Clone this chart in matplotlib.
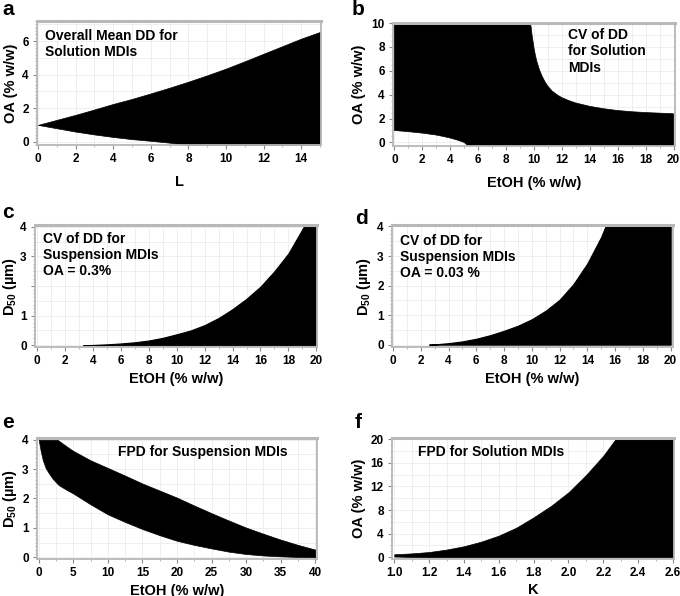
import numpy as np
import matplotlib
matplotlib.use("Agg")
import matplotlib.pyplot as plt
from matplotlib.ticker import MultipleLocator, FormatStrFormatter

plt.rcParams['font.family'] = ['Liberation Sans', 'DejaVu Sans']
plt.rcParams['font.weight'] = 'bold'
plt.rcParams['mathtext.fontset'] = 'custom'
plt.rcParams['mathtext.rm'] = 'Liberation Sans'

# (a) overall mean DD, solution MDIs
L_a = [0, 1, 2, 3, 4, 5, 6, 7, 8, 9, 10, 11, 12, 13, 14, 15]
upper_a = [1.0, 1.3, 1.6, 1.92, 2.25, 2.55, 2.88, 3.22, 3.58, 3.96, 4.36, 4.8, 5.25, 5.7, 6.15, 6.55]
lower_a = [1.0, 0.8, 0.6, 0.43, 0.28, 0.15, 0.05, -0.06, -0.2, -0.2, -0.2, -0.2, -0.2, -0.2, -0.2, -0.2]

# (b) CV of DD, solution MDIs: black region bounded by two curves
etoh_b_up = [9.75, 9.8, 9.85, 9.9, 10.0, 10.1, 10.2, 10.4, 10.6, 10.8, 11.0, 11.3, 11.7, 12, 12.5, 13, 14, 15, 16, 17, 18, 19, 20]
oa_b_up = [10, 9.6, 9.1, 8.7, 7.9, 7.3, 6.8, 6.05, 5.5, 5.05, 4.7, 4.3, 3.95, 3.75, 3.5, 3.3, 3.02, 2.82, 2.67, 2.57, 2.5, 2.45, 2.4]
etoh_b_lo = [0, 1, 2, 3, 3.5, 4, 4.5, 4.8, 5.0, 5.3]
oa_b_lo = [1.0, 0.9, 0.78, 0.62, 0.5, 0.37, 0.2, 0.08, 0.0, -0.3]

# (c) CV of DD, suspension MDIs, OA = 0.3%
etoh_c = [3.3, 4, 5, 6, 7, 8, 9, 10, 11, 12, 13, 14, 15, 16, 17, 18, 19.1, 20]
d50_c = [0, 0.01, 0.03, 0.06, 0.1, 0.16, 0.25, 0.37, 0.5, 0.68, 0.92, 1.22, 1.57, 1.98, 2.5, 3.1, 4.0, 4.0]

# (d) CV of DD, suspension MDIs, OA = 0.03%
etoh_d = [2.6, 3, 4, 5, 6, 7, 8, 9, 10, 11, 12, 13, 14, 14.5, 15, 15.3, 20]
d50_d = [0, 0.01, 0.05, 0.11, 0.2, 0.32, 0.47, 0.64, 0.86, 1.15, 1.52, 2.05, 2.75, 3.2, 3.65, 4.0, 4.0]

# (e) FPD, suspension MDIs
etoh_e = [0, 0.3, 0.6, 1, 1.5, 2, 2.7, 3, 4, 5, 7.5, 10, 12.5, 15, 17.5, 20, 22.5, 25, 27.5, 30, 32.5, 35, 37.5, 40]
upper_e = [4, 4, 4, 4, 4, 4, 4, 3.95, 3.78, 3.62, 3.3, 3.04, 2.78, 2.51, 2.27, 2.03, 1.76, 1.5, 1.25, 1.01, 0.8, 0.6, 0.42, 0.26]
lower_e = [4, 3.6, 3.3, 3.04, 2.85, 2.68, 2.5, 2.44, 2.3, 2.17, 1.8, 1.46, 1.2, 0.96, 0.75, 0.56, 0.42, 0.3, 0.19, 0.11, 0.06, 0.03, 0.01, 0]

# (f) FPD, solution MDIs
K_f = [1.0, 1.1, 1.2, 1.3, 1.4, 1.5, 1.6, 1.7, 1.8, 1.9, 2.0, 2.1, 2.2, 2.27, 2.6]
upper_f = [0.5, 0.65, 0.88, 1.3, 1.86, 2.65, 3.66, 5.0, 6.76, 8.7, 11.0, 13.9, 17.2, 20, 20]
lower_f = [0.12, 0.05, 0, 0, 0, 0, 0, 0, 0, 0, 0, 0, 0, 0, 0]

W, H = 680, 596
fig = plt.figure(figsize=(W / 100, H / 100), dpi=100)


def make_ax(l, t, r, b):
    return fig.add_axes([l / W, 1 - b / H, (r - l) / W, (b - t) / H])


def style(ax, xlim, ylim, xmaj, xmin, ymaj, ymin, xlabel, ylabel, xpad=5, ypad=4):
    ax.set_xlim(*xlim)
    ax.set_ylim(*ylim)
    ax.xaxis.set_major_locator(MultipleLocator(xmaj))
    ax.xaxis.set_minor_locator(MultipleLocator(xmin))
    ax.yaxis.set_major_locator(MultipleLocator(ymaj))
    ax.yaxis.set_minor_locator(MultipleLocator(ymin))
    # faint grid at major ticks and half-way between them
    for gx in np.arange(0, xlim[1] + 1e-9, xmaj / 2):
        if gx > xlim[0]:
            ax.axvline(gx, color='#ececec', lw=0.6, zorder=0)
    for gy in np.arange(0, ylim[1] + 1e-9, ymaj / 2):
        ax.axhline(gy, color='#ececec', lw=0.6, zorder=0)
    for s in ax.spines.values():
        s.set_color('#b8b8b8')
        s.set_linewidth(1.3)
    ax.spines['top'].set_linewidth(2.2)
    ax.tick_params(which='major', length=3, width=0.8, color='#888888',
                   labelsize=8.5, pad=3)
    ax.tick_params(which='minor', length=1.5, width=0.5, color='#999999')
    for lab in ax.get_xticklabels() + ax.get_yticklabels():
        lab.set_fontweight('bold')
    ax.set_xlabel(xlabel, fontsize=10.5, fontweight='bold', labelpad=xpad)
    ax.set_ylabel(ylabel, fontsize=10.5, fontweight='bold', labelpad=ypad)


def note(ax, x, y, s):
    ax.text(x, y, s, transform=ax.transAxes, ha='left', va='top',
            fontsize=10, fontweight='bold', linespacing=1.2, zorder=5)


oa_lab = 'OA (% w/w)'
etoh_lab = 'EtOH (% w/w)'
d50_lab = r'D$_{\mathrm{50}}$ (µm)'

# a
ax = make_ax(37, 21, 321, 145)
ax.fill_between(L_a, lower_a, upper_a, color='black', lw=0.5, zorder=2)
style(ax, (-0.05, 15.05), (-0.2, 7.2), 2, 1, 2, 0.2, 'L', oa_lab, xpad=7, ypad=3)
note(ax, 0.028, 0.935, 'Overall Mean DD for\nSolution MDIs')

# b
ax = make_ax(393, 23, 675, 146)
bx = np.concatenate([[0], etoh_b_up, [20, 20], etoh_b_lo[::-1]])
by = np.concatenate([[10], oa_b_up, [2.4, -0.3], oa_b_lo[::-1]])
ax.fill(bx, by, color='black', lw=0.5, zorder=2)
style(ax, (-0.1, 20.1), (-0.3, 10), 2, 1, 2, 0.5, etoh_lab, oa_lab, xpad=7)
note(ax, 0.62, 0.957, 'CV of DD\nfor Solution\nMDIs')

# c
ax = make_ax(35, 225, 317, 347)
ax.fill_between(etoh_c, 0, d50_c, color='black', lw=0.8, zorder=2)
style(ax, (-0.15, 20.05), (-0.06, 4.06), 2, 1, 1, 0.125, etoh_lab, d50_lab, xpad=3, ypad=1)
ax.set_yticks([0, 1, 2, 3, 4])
ax.set_yticklabels(['0', '1', '', '3', '4'], fontweight='bold')
note(ax, 0.03, 0.945, 'CV of DD for\nSuspension MDIs\nOA = 0.3%')

# d
ax = make_ax(392, 225, 673, 347)
ax.fill_between(etoh_d, 0, d50_d, color='black', lw=0.8, zorder=2)
style(ax, (-0.07, 20.17), (-0.08, 4.05), 2, 1, 1, 0.125, etoh_lab, d50_lab, xpad=3, ypad=3)
note(ax, 0.028, 0.93, 'CV of DD for\nSuspension MDIs\nOA = 0.03 %')

# e
ax = make_ax(37, 438, 317, 559)
ax.fill_between(etoh_e, lower_e, upper_e, color='black', lw=0.5, zorder=2)
style(ax, (-0.25, 40.25), (-0.06, 4.06), 5, 2.5, 1, 0.125, etoh_lab, d50_lab, xpad=3, ypad=2)
note(ax, 0.29, 0.946, 'FPD for Suspension MDIs')

# f
ax = make_ax(392, 438, 674, 559)
ax.fill_between(K_f, lower_f, upper_f, color='black', lw=0.5, zorder=2)
style(ax, (0.987, 2.606), (-0.3, 20.2), 0.2, 0.1, 4, 1, 'K', oa_lab, xpad=3, ypad=3)
ax.xaxis.set_major_formatter(FormatStrFormatter('%.1f'))
note(ax, 0.093, 0.94, 'FPD for Solution MDIs')

# panel letters
for lx, ly, s in [(2, 15, 'a'), (352, 15, 'b'), (2, 218, 'c'),
                  (355, 224, 'd'), (2, 428, 'e'), (355, 428, 'f')]:
    fig.text(lx / W, 1 - ly / H, s, fontsize=15, fontweight='bold',
             ha='left', va='baseline')

fig.savefig('out.png', dpi=100)
